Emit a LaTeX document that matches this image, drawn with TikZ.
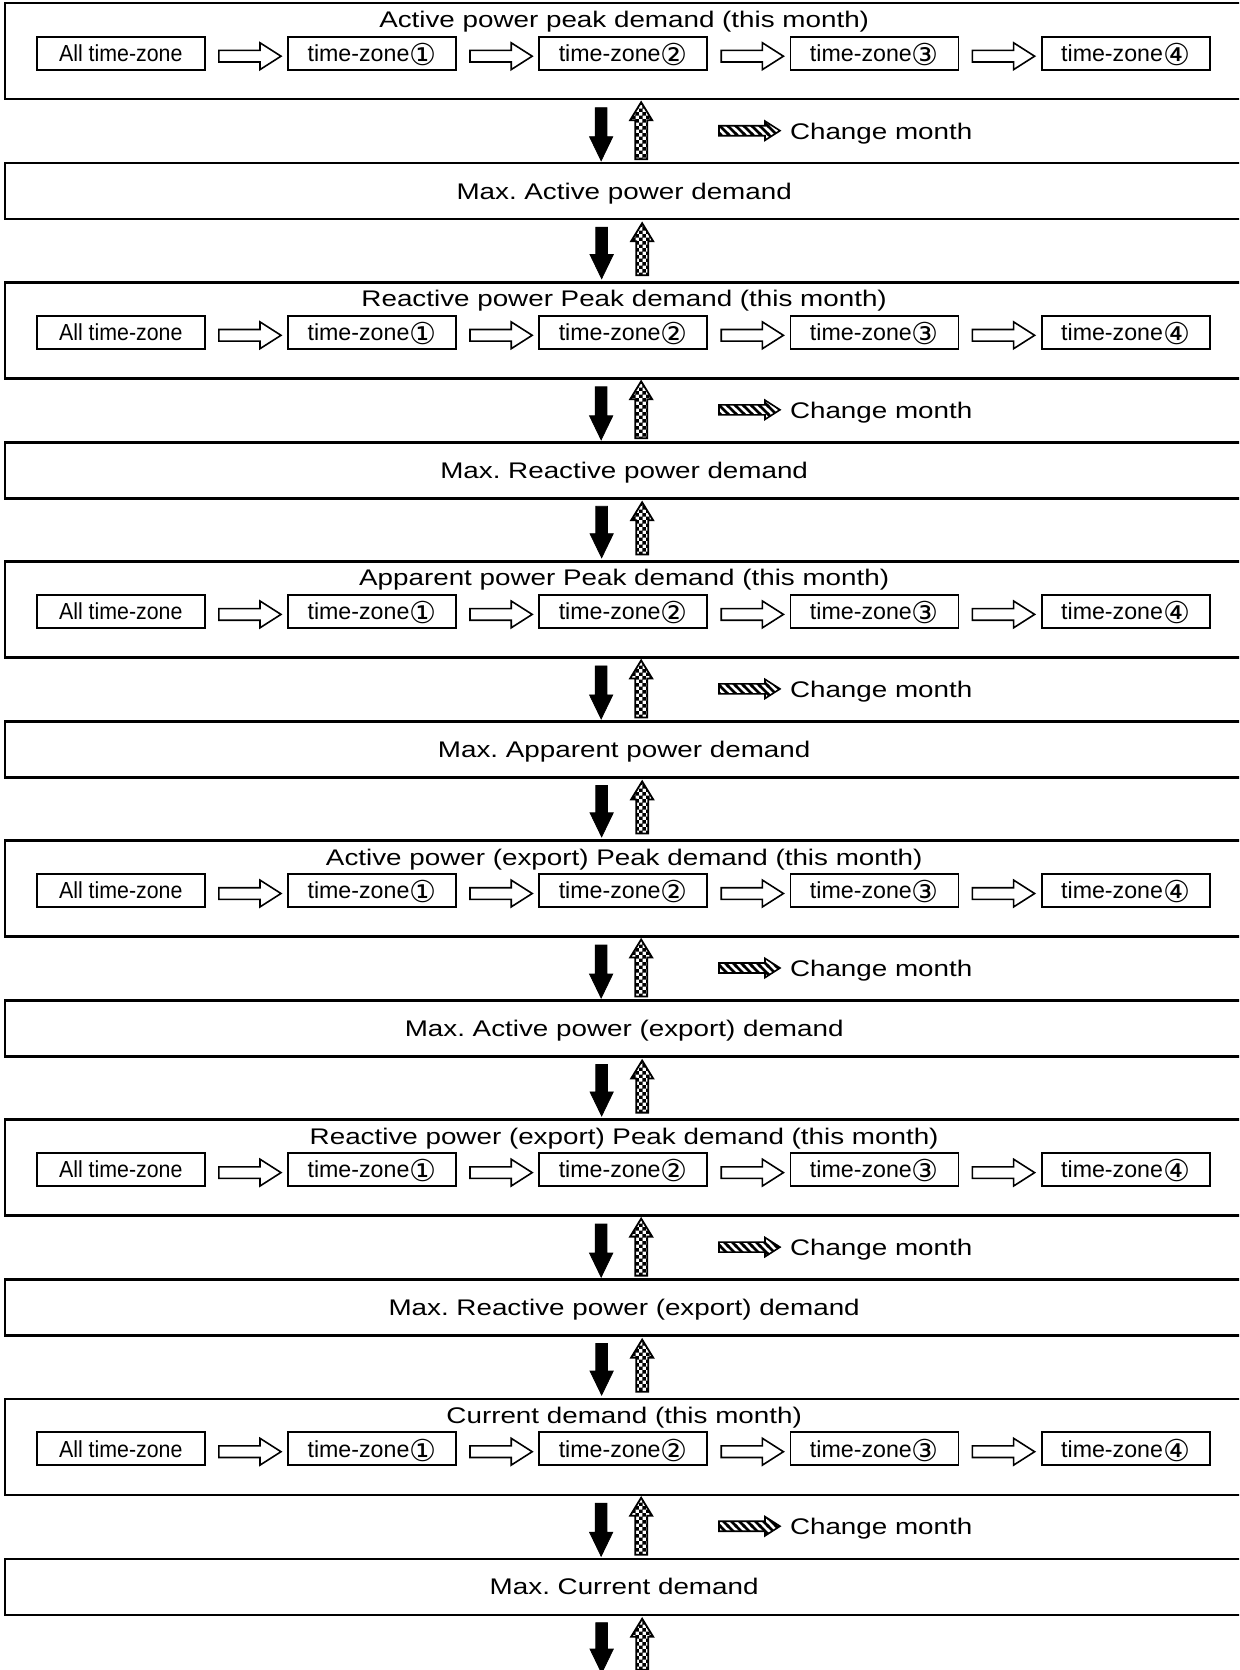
\documentclass[tikz,border=0pt]{standalone}
\usepackage{fontspec}
\setmainfont{Liberation Sans}
\newfontfamily\circfont{DejaVu Sans}
\usetikzlibrary{calc,patterns}

% thick diagonal hatching for the "change month" arrow
\pgfdeclarepatternformonly{hatchstripes}{\pgfqpoint{-1pt}{-1pt}}{\pgfqpoint{5pt}{5pt}}{\pgfqpoint{4pt}{4pt}}{
  \pgfsetlinewidth{1.3pt}
  \pgfpathmoveto{\pgfqpoint{-0.5pt}{4.5pt}}
  \pgfpathlineto{\pgfqpoint{4.5pt}{-0.5pt}}
  \pgfusepath{stroke}}
% small checkerboard for the backward arrows
\pgfdeclarepatternformonly{finechecker}{\pgfpointorigin}{\pgfqpoint{3.4pt}{3.4pt}}{\pgfqpoint{3.4pt}{3.4pt}}{
  \pgfpathrectangle{\pgfpointorigin}{\pgfqpoint{1.75pt}{1.75pt}}
  \pgfpathrectangle{\pgfqpoint{1.7pt}{1.7pt}}{\pgfqpoint{1.75pt}{1.75pt}}
  \pgfusepath{fill}}

\newcommand\bigfont{\fontsize{11.3pt}{13.5pt}\selectfont}
\newcommand\smallfont{\fontsize{11.6pt}{13.9pt}\selectfont}
\newcommand\widetext[1]{\scalebox{1.23}[1]{#1}}
\newcommand\narrowtext[1]{\scalebox{0.92}[1]{#1}}
\newcommand\zn[1]{time-zone\raisebox{-2pt}{\scalebox{1.3}{\circfont #1}}}

\begin{document}
\frenchspacing
\begin{tikzpicture}[x=0.5pt,y=-0.5pt,
  groupbox/.style={draw, line width=1.2pt, minimum width=618.9pt, minimum height=48pt,
    inner sep=0pt, outer sep=0pt},
  maxbox/.style={groupbox, minimum height=28pt, font=\bigfont, text height=8.1pt, text depth=0pt},
  zonebox/.style={draw, line width=0.9pt, minimum width=84pt, minimum height=16.5pt,
    inner sep=0pt, outer sep=0pt, font=\smallfont, text height=8.3pt, text depth=0pt},
  caption/.style={font=\bigfont, inner sep=0pt, outer sep=0pt},
  flowarrow/.style={draw, line width=0.8pt, fill=white,
    to path={let \p1=(\tikztostart), \p2=(\tikztotarget) in
      (\x1,\y1+2.9pt) -- (\x2-10.5pt,\y1+2.9pt) -- (\x2-10.5pt,\y1+6.7pt) -- (\x2,\y1)
      -- (\x2-10.5pt,\y1-6.7pt) -- (\x2-10.5pt,\y1-2.9pt) -- (\x1,\y1-2.9pt) -- cycle}},
  downblock/.style={draw, line width=0.4pt, fill=black,
    to path={let \p1=(\tikztostart), \p2=(\tikztotarget) in
      (\x1-2.9pt,\y1) -- (\x1-2.9pt,\y2+12pt) -- (\x1-5.8pt,\y2+12pt) -- (\x2,\y2)
      -- (\x1+5.8pt,\y2+12pt) -- (\x1+2.9pt,\y2+12pt) -- (\x1+2.9pt,\y1) -- cycle}},
  upblock/.style={draw, line width=0.9pt, pattern=finechecker,
    to path={let \p1=(\tikztostart), \p2=(\tikztotarget) in
      (\x1-3pt,\y1) -- (\x1-3pt,\y2-9pt) -- (\x1-5.5pt,\y2-9pt) -- (\x2,\y2)
      -- (\x1+5.5pt,\y2-9pt) -- (\x1+3pt,\y2-9pt) -- (\x1+3pt,\y1) -- cycle}},
  hatcharrow/.style={draw, line width=0.8pt, pattern=hatchstripes,
    to path={let \p1=(\tikztostart), \p2=(\tikztotarget) in
      (\x1,\y1+2.5pt) -- (\x2-7.5pt,\y1+2.5pt) -- (\x2-7.5pt,\y1+4.8pt) -- (\x2,\y1)
      -- (\x2-7.5pt,\y1-4.8pt) -- (\x2-7.5pt,\y1-2.5pt) -- (\x1,\y1-2.5pt) -- cycle}}
]
\clip (0,0) rectangle (1239,1670);

\foreach \k/\ttl/\mx [evaluate=\k as \g using 3.2+279.1*(\k-1)] in {
  1/Active power peak demand (this month)/Max. Active power demand,
  2/Reactive power Peak demand (this month)/Max. Reactive power demand,
  3/Apparent power Peak demand (this month)/Max. Apparent power demand,
  4/Active power (export) Peak demand (this month)/Max. Active power (export) demand,
  5/Reactive power (export) Peak demand (this month)/Max. Reactive power (export) demand,
  6/Current demand (this month)/Max. Current demand}{
  % peak demand group with its time-zone sequence
  \node[groupbox] (g\k) at (624.15,\g+48) {};
  \node[caption, anchor=base] (t\k) at (624.15,\g+24.5) {\widetext{\ttl}};
  \foreach \j/\lbl [evaluate=\j as \zx using 120.8+251.2*(\j-1)] in
      {1/\narrowtext{All time-zone},2/\zn{①},3/\zn{②},4/\zn{③},5/\zn{④}}
    \node[zonebox] (z\k-\j) at (\zx,\g+50) {\lbl};
  \foreach \j [evaluate=\j as \jn using int(\j+1)] in {1,...,4}
    \draw[flowarrow] ($(z\k-\j.east)+(14,3)$) to ($(z\k-\jn.west)+(-7,3)$);
  % maximum demand box
  \node[maxbox] (m\k) at (624.15,\g+188) {\widetext{\mx}};
  % browsing arrows between the group and its maximum
  \draw[downblock] ($(g\k.south)+(-23,8.5)$) to ($(m\k.north)+(-23,-2.5)$);
  \draw[upblock] ($(m\k.north)+(17,-4)$) to ($(g\k.south)+(17,3)$);
  % change-month legend
  \node[caption, anchor=base west] (c\k) at (790,\g+136) {\widetext{Change month}};
  \draw[hatcharrow] ($(c\k.base west)+(-71,-8.5)$) to ($(c\k.base west)+(-10,-8.5)$);
}

% continuation below the last maximum box
\node[inner sep=0pt, outer sep=0pt] (g7) at (624.15,1677.8) {};
\foreach \k [evaluate=\k as \kn using int(\k+1)] in {1,...,6}{
  \draw[downblock] ($(m\k.south)+(-22.5,8)$) to ($(g\kn.north)+(-22.5,-3.7)$);
  \draw[upblock] ($(g\kn.north)+(18,-7)$) to ($(m\k.south)+(18,4)$);
}
\end{tikzpicture}
\end{document}
